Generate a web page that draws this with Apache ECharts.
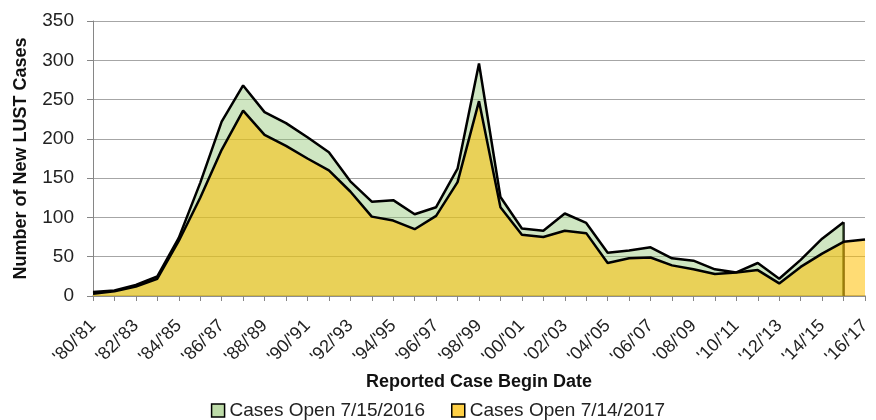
<!DOCTYPE html>
<html lang="en">
<head>
    <meta charset="UTF-8">
    <title>New LUST Cases</title>
    <script src="https://cdn.jsdelivr.net/npm/echarts@6.0.0/dist/echarts.min.js"></script>
    <style>
        body { margin: 0; background: #fff; }
    </style>
</head>
<body>
    <div id="chart" style="width: 876px; height: 420px;"></div>
    <script>
        // fiscal years '80/'81 ... '16/'17
        var years = ["'80/'81", "'81/'82", "'82/'83", "'83/'84", "'84/'85", "'85/'86", "'86/'87", "'87/'88",
            "'88/'89", "'89/'90", "'90/'91", "'91/'92", "'92/'93", "'93/'94", "'94/'95", "'95/'96",
            "'96/'97", "'97/'98", "'98/'99", "'99/'00", "'00/'01", "'01/'02", "'02/'03", "'03/'04",
            "'04/'05", "'05/'06", "'06/'07", "'07/'08", "'08/'09", "'09/'10", "'10/'11", "'11/'12",
            "'12/'13", "'13/'14", "'14/'15", "'15/'16", "'16/'17"];

        var open2016 = [5, 7, 14, 25, 74, 144, 222, 268, 234, 220, 202, 183, 146, 120, 122, 104,
            113, 162, 296, 126, 86, 83, 105, 93, 55, 58, 62, 48, 45, 34, 30, 42, 22, 46, 73, 94, null];

        var open2017 = [3, 6, 12, 22, 70, 125, 186, 236, 205, 191, 175, 160, 133, 101, 96, 85,
            102, 145, 248, 113, 78, 75, 83, 80, 42, 48, 49, 39, 34, 28, 30, 33, 16, 37, 54, 69, 72];

        var yTicks = [0, 50, 100, 150, 200, 250, 300, 350];

        var font = 'Liberation Sans';
        var chart = echarts.init(document.getElementById('chart'));

        var option = {
            backgroundColor: '#fff',
            animation: false,
            textStyle: { fontFamily: font },
            grid: { left: 93, right: 11, top: 21, bottom: 124 },
            legend: {
                top: 396,
                left: 'center',
                icon: 'rect',
                itemWidth: 13,
                itemHeight: 13,
                itemGap: 26,
                textStyle: { fontSize: 19, color: '#222', fontFamily: font },
                itemStyle: { borderColor: '#000', borderWidth: 1.5 },
                data: [
                    { name: 'Cases Open 7/15/2016', itemStyle: { color: '#BDDBA8' } },
                    { name: 'Cases Open 7/14/2017', itemStyle: { color: '#FFD045' } }
                ]
            },
            xAxis: {
                type: 'category',
                data: years,
                boundaryGap: false,
                name: 'Reported Case Begin Date',
                nameLocation: 'middle',
                nameGap: 77,
                nameTextStyle: { fontSize: 18, fontWeight: 'bold', color: '#111' },
                axisLine: { lineStyle: { color: '#868686', width: 1.5 } },
                axisTick: { show: true, interval: 0, length: 5, lineStyle: { color: '#868686' } },
                axisLabel: { interval: 1, rotate: 45, fontSize: 18, color: '#222', margin: 27 }
            },
            yAxis: {
                type: 'value',
                min: yTicks[0],
                max: yTicks[yTicks.length - 1],
                interval: 50,
                name: 'Number of New LUST Cases',
                nameLocation: 'middle',
                nameGap: 63,
                nameTextStyle: { fontSize: 18, fontWeight: 'bold', color: '#111' },
                axisLine: { show: true, lineStyle: { color: '#868686' } },
                axisTick: { show: true, length: 6, lineStyle: { color: '#868686' } },
                axisLabel: { fontSize: 19, color: '#222', margin: 19 },
                splitLine: { lineStyle: { color: '#A6A6A6', width: 1.2 } }
            },
            series: [
                {
                    name: 'Cases Open 7/15/2016',
                    type: 'line',
                    z: 2,
                    data: open2016,
                    symbol: 'none',
                    color: '#BDDBA8',
                    lineStyle: { color: '#000', width: 2.5 },
                    areaStyle: { color: 'rgba(140,195,110,0.6)' },
                    markLine: {
                        silent: true,
                        z: 2,
                        symbol: 'none',
                        label: { show: false },
                        lineStyle: { color: '#000', width: 2.5, type: 'solid' },
                        data: [[
                            { coord: [years[35], 0] },
                            { coord: [years[35], open2016[35]] }
                        ]]
                    }
                },
                {
                    name: 'Cases Open 7/14/2017',
                    type: 'line',
                    z: 4,
                    data: open2017,
                    symbol: 'none',
                    color: '#FFD045',
                    lineStyle: { color: '#000', width: 2.5 },
                    areaStyle: { color: 'rgba(255,190,0,0.78)' }
                }
            ]
        };

        chart.setOption(option);
    </script>
</body>
</html>
